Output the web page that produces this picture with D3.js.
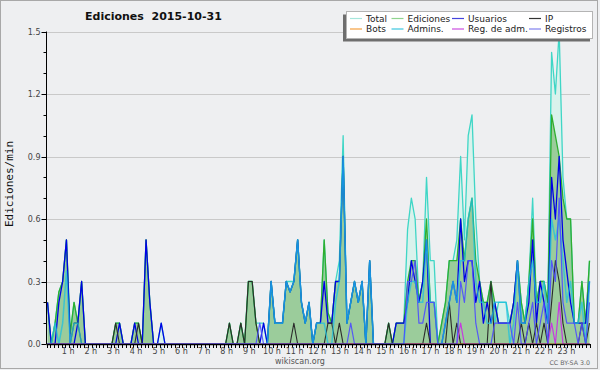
<!DOCTYPE html>
<html>
<head>
<meta charset="utf-8">
<script src="https://cdnjs.cloudflare.com/ajax/libs/d3/7.8.5/d3.min.js"></script>
<style>
  body { margin: 0; background: #eeeff1; }
  svg { display: block; }
</style>
</head>
<body>
<script>
// 10-minute bins, 6 per hour, 0 h .. 23 h 50
var total = [
  0.2,0,0.1,0.25,0.3,0.5,   0.05,0.2,0.1,0.3,0,0,   0,0,0,0,0,0,   0.1,0.1,0,0,0,0.1,
  0.1,0,0.5,0.2,0,0,        0.1,0,0,0,0,0,          0,0,0,0,0,0,   0,0,0,0,0,0,
  0.1,0,0,0.1,0,0.3,        0.3,0.1,0.1,0.1,0,0.3,  0.1,0.1,0.1,0.3,0.3,0.3,  0.5,0.2,0.1,0.2,0,0.1,
  0.1,0.5,0.15,0.1,0.3,0.4, 1.0,0.1,0.2,0.3,0.2,0.3, 0,0.4,0,0,0,0,  0.1,0,0.1,0.1,0.1,0.55,
  0.7,0.6,0.2,0.3,0.8,0.4,  0.4,0,0.1,0.2,0.4,0.4,  0.5,0.9,0.5,1.0,1.1,0.6,  0.3,0.2,0.2,0.3,0.1,0.2,
  0.2,0.2,0.1,0.2,0.4,0.2,  0.1,0.3,0.7,0.2,0.3,0.3, 0.2,1.4,1.2,1.5,0.8,0.6, 0.6,0.1,0.1,0.3,0.1,0.4
];
var ediciones = [
  0.2,0,0.1,0.25,0.3,0.5,   0.05,0.2,0.1,0.3,0,0,   0,0,0,0,0,0,   0.1,0.1,0,0,0,0.1,
  0.1,0,0.5,0.2,0,0,        0,0,0,0,0,0,            0,0,0,0,0,0,   0,0,0,0,0,0,
  0.1,0,0,0.1,0,0.3,        0.3,0.1,0,0,0,0.3,      0.1,0.1,0.1,0.3,0.25,0.3,  0.5,0.2,0.1,0.2,0,0.1,
  0.1,0.5,0.15,0.1,0.3,0.3, 0.9,0.1,0.2,0.3,0.2,0.3, 0,0.4,0,0,0,0,  0.1,0,0.1,0.1,0.1,0.3,
  0.4,0.4,0.2,0.3,0.6,0.2,  0.2,0,0.1,0.2,0.4,0.4,  0.4,0.6,0.4,0.6,0.7,0.4,  0.3,0.2,0.2,0.3,0.2,0.1,
  0.1,0.1,0.1,0.2,0.4,0.2,  0.1,0.3,0.6,0.2,0.3,0.3, 0.2,1.1,1.0,0.9,0.7,0.6, 0.6,0.1,0.1,0.3,0.1,0.4
];
var usuarios = [
  0.2,0,0,0.2,0.3,0.5,      0,0,0.1,0.3,0,0,        0,0,0,0,0,0,   0,0.1,0,0,0,0.1,
  0,0,0.5,0.2,0,0,          0.1,0,0,0,0,0,          0,0,0,0,0,0,   0,0,0,0,0,0,
  0,0,0,0,0,0,              0,0,0,0.1,0,0.3,        0.1,0.1,0.1,0.3,0.25,0.3,  0.5,0.2,0.1,0.2,0,0.1,
  0.1,0.3,0.1,0.1,0.3,0.3,  0.9,0.1,0.2,0.3,0.2,0.3, 0,0.4,0,0,0,0,  0,0,0.1,0.1,0.1,0.2,
  0.4,0.3,0.2,0.3,0.5,0,    0,0,0,0.1,0.2,0.3,      0.2,0.6,0.3,0.4,0.4,0.2,  0.3,0.1,0.2,0.1,0.2,0.1,
  0.1,0.1,0.1,0.2,0.4,0.1,  0.1,0.2,0.5,0.1,0.3,0.2, 0.1,0.8,0.6,0.9,0.5,0.35, 0.2,0.1,0.1,0.1,0.1,0.3
];
var ip = [
  0,0,0,0,0,0,   0,0.1,0.1,0,0,0,   0,0,0,0,0,0,   0.1,0,0,0,0,0,
  0.1,0,0,0,0,0, 0,0,0,0,0,0,       0,0,0,0,0,0,   0,0,0,0,0,0,
  0.1,0,0,0.1,0,0.3,  0.3,0.1,0,0,0,0,  0,0,0,0,0,0.1,  0,0,0,0,0,0,
  0,0,0.1,0.1,0,0.1,  0,0,0,0,0,0,      0,0,0,0,0,0,    0.1,0,0,0,0,0,
  0,0,0,0,0.1,0,      0,0,0,0,0.2,0,    0.1,0,0,0,0,0,  0,0,0,0.3,0,0,
  0,0,0,0,0,0.1,      0,0.1,0,0.1,0,0.1, 0,0.2,0.4,0.3,0.1,0, 0,0,0,0.1,0,0.1
];
var bots = [
  0,0,0,0,0,0, 0,0,0,0,0,0, 0,0,0,0,0,0, 0,0,0,0,0,0,
  0,0,0,0,0,0, 0,0,0,0,0,0, 0,0,0,0,0,0, 0,0,0,0,0,0,
  0,0,0,0,0,0, 0,0,0,0,0,0, 0,0,0,0,0,0, 0,0,0,0,0,0,
  0,0,0,0,0,0, 0,0,0,0,0,0, 0,0,0,0,0,0, 0,0,0,0,0,0,
  0,0,0,0,0,0, 0,0,0,0,0,0, 0,0,0,0,0,0, 0,0,0,0,0,0,
  0,0,0,0,0,0, 0,0,0,0,0,0, 0,0,0,0,0,0, 0,0,0,0,0,0
];
var admins = [
  0,0,0.1,0,0.1,0.35,  0,0.1,0.1,0,0,0,  0,0,0,0,0,0,  0,0,0,0,0,0,
  0,0,0,0,0,0,         0,0,0,0,0,0,      0,0,0,0,0,0,  0,0,0,0,0,0,
  0,0,0,0,0,0,         0,0,0,0,0,0.3,    0.1,0.1,0.1,0.3,0.25,0.3,  0.5,0.2,0.1,0.2,0,0.1,
  0.1,0.1,0,0,0.2,0.3, 0.9,0.1,0.2,0.3,0.2,0.3, 0,0.4,0,0,0,0,  0,0,0,0,0,0.2,
  0.3,0.3,0.2,0.2,0.5,0.2,  0.2,0,0,0.1,0.2,0.3,  0.2,0.4,0.4,0.6,0.7,0.3,  0.2,0.2,0.1,0.1,0.2,0.2,
  0.2,0.2,0,0.1,0.4,0.1,    0.1,0.3,0.4,0.2,0.2,0.3, 0.1,0.6,0.5,0.6,0.4,0.2, 0.3,0.1,0.1,0.2,0,0.3
];
var regAdm = [
  0,0,0,0,0,0, 0,0,0,0,0,0, 0,0,0,0,0,0, 0,0,0,0,0,0,
  0,0,0,0,0,0, 0,0,0,0,0,0, 0,0,0,0,0,0, 0,0,0,0,0,0,
  0,0,0,0,0,0, 0,0,0,0,0,0, 0,0,0,0,0,0, 0,0,0,0,0,0,
  0,0,0,0,0,0, 0,0,0,0,0,0, 0,0,0,0,0,0, 0,0,0,0,0,0,
  0,0,0,0,0,0, 0,0,0,0,0,0, 0,0.1,0,0,0,0, 0,0,0,0,0,0,
  0,0,0,0,0,0, 0,0,0,0,0,0, 0,0.1,0,0.2,0,0, 0,0,0,0,0,0
];
var registros = [
  0,0,0,0,0,0, 0,0,0,0,0,0, 0,0,0,0,0,0, 0,0,0,0,0,0,
  0,0,0,0,0,0, 0,0,0,0,0,0, 0,0,0,0,0,0, 0,0,0,0,0,0,
  0,0,0,0,0,0, 0,0,0.1,0,0,0, 0,0,0,0,0,0, 0,0,0,0,0,0,
  0,0,0,0,0,0, 0,0,0.1,0,0,0, 0,0,0,0,0,0, 0,0,0,0,0,0.3,
  0.3,0.4,0.1,0.1,0.2,0.2,  0.2,0,0,0,0,0,  0,0.3,0.2,0.4,0.4,0.1,  0,0,0,0,0.1,0.1,
  0.1,0.1,0.1,0,0.2,0,      0,0.1,0.2,0,0.1,0.2,  0,0.4,0.3,0.7,0.2,0.1,  0.1,0.1,0,0.1,0,0.2
];

var hours = ["1 h","2 h","3 h","4 h","5 h","6 h","7 h","8 h","9 h","10 h","11 h","12 h",
             "13 h","14 h","15 h","16 h","17 h","18 h","19 h","20 h","21 h","22 h","23 h"];
var yTicks = [0, 0.3, 0.6, 0.9, 1.2, 1.5];
var yMinor = [0.1, 0.2, 0.4, 0.5, 0.7, 0.8, 1.0, 1.1, 1.3, 1.4];

var width = 600, height = 370;
var plotL = 46.5, plotR = 590, plotB = 344, plotT = 31.5;

var svg = d3.select("body").append("svg")
  .attr("width", width)
  .attr("height", height);

svg.append("rect")
  .attr("x", 0.5).attr("y", 0.5)
  .attr("width", 597).attr("height", 368)
  .attr("fill", "#eeeff1")
  .attr("stroke", "#a8a8a8");

var x = d3.scaleLinear().domain([0, 143]).range([47.5, 589.5]);
var xt = d3.scaleLinear().domain([0, 144]).range([plotL, plotR]);
var y = d3.scaleLinear().domain([0, 1.5]).range([plotB, plotT]);

// grid
svg.append("g").selectAll("line")
  .data(yTicks.slice(1))
  .enter().append("line")
  .attr("x1", plotL).attr("x2", plotR)
  .attr("y1", function(d) { return Math.round(y(d)) + 0.5 })
  .attr("y2", function(d) { return Math.round(y(d)) + 0.5 })
  .attr("stroke", "#c9c9c9");

var idx = d3.range(144);
var area = function(vals) {
  return d3.area()
    .x(function(i) { return x(i) })
    .y0(y(0))
    .y1(function(i) { return y(vals[i]) })(idx);
};
var line = function(vals) {
  return d3.line()
    .x(function(i) { return x(i) })
    .y(function(i) { return y(vals[i]) })(idx);
};

svg.append("path").attr("d", area(total)).attr("fill", "#d9f2ec");
svg.append("path").attr("d", area(ediciones)).attr("fill", "#9bcc9b");

var series = [
  {vals: total, color: "#3fd6c6", w: 1.3, op: 1},
  {vals: ediciones, color: "#2fae2f", w: 1.3, op: 1},
  {vals: usuarios, color: "#0000e6", w: 1.3, op: 1},
  {vals: ip, color: "#2b2b2b", w: 1.1, op: 1},
  {vals: bots, color: "#ff9a2e", w: 1.1, op: 1},
  {vals: admins, color: "#1fc0e0", w: 1.5, op: 0.75},
  {vals: regAdm, color: "#c63ae0", w: 1.2, op: 1},
  {vals: registros, color: "#4c4cff", w: 1.2, op: 0.9}
];
svg.append("g").selectAll("path")
  .data(series)
  .enter().append("path")
  .attr("d", function(d) { return line(d.vals) })
  .attr("fill", "none")
  .attr("stroke", function(d) { return d.color })
  .attr("stroke-width", function(d) { return d.w })
  .attr("stroke-opacity", function(d) { return d.op })
  .attr("stroke-linejoin", "round");

// y axis
var yAxis = svg.append("g").attr("font-family", "DejaVu Sans").attr("font-size", 8).attr("fill", "#444");
yAxis.append("line")
  .attr("x1", plotL).attr("x2", plotL).attr("y1", plotT).attr("y2", plotB)
  .attr("stroke", "#000");
yAxis.selectAll("line.major").data(yTicks).enter().append("line")
  .attr("class", "major")
  .attr("x1", plotL - 5).attr("x2", plotL)
  .attr("y1", function(d) { return Math.round(y(d)) + 0.5 })
  .attr("y2", function(d) { return Math.round(y(d)) + 0.5 })
  .attr("stroke", "#000");
yAxis.selectAll("line.minor").data(yMinor).enter().append("line")
  .attr("class", "minor")
  .attr("x1", plotL - 3).attr("x2", plotL)
  .attr("y1", function(d) { return Math.round(y(d)) + 0.5 })
  .attr("y2", function(d) { return Math.round(y(d)) + 0.5 })
  .attr("stroke", "#000");
yAxis.selectAll("text").data(yTicks).enter().append("text")
  .attr("x", plotL - 6).attr("y", function(d) { return y(d) + 3 })
  .attr("text-anchor", "end")
  .text(function(d) { return d.toFixed(1) });

// x axis
var xAxis = svg.append("g").attr("font-family", "DejaVu Sans").attr("font-size", 8).attr("fill", "#444");
xAxis.append("line")
  .attr("x1", plotL).attr("x2", plotR).attr("y1", plotB + 0.5).attr("y2", plotB + 0.5)
  .attr("stroke", "#000").attr("stroke-width", 1.5);
xAxis.selectAll("line.tick").data(d3.range(145)).enter().append("line")
  .attr("class", "tick")
  .attr("x1", function(d) { return Math.round(xt(d)) + 0.5 })
  .attr("x2", function(d) { return Math.round(xt(d)) + 0.5 })
  .attr("y1", plotB).attr("y2", plotB + 4)
  .attr("stroke", "#000");
xAxis.selectAll("text").data(hours).enter().append("text")
  .attr("x", function(d, i) { return xt((i + 1) * 6) - 1 })
  .attr("y", plotB + 10)
  .attr("text-anchor", "middle")
  .text(function(d) { return d });

// titles
svg.append("text")
  .attr("x", 85).attr("y", 20)
  .attr("font-family", "DejaVu Sans").attr("font-weight", "bold").attr("font-size", 11)
  .attr("fill", "#111")
  .style("white-space", "pre")
  .text("Ediciones  2015-10-31");

svg.append("text")
  .attr("transform", "translate(13,184) rotate(-90)")
  .attr("text-anchor", "middle")
  .attr("font-family", "DejaVu Sans Mono").attr("font-size", 11)
  .attr("fill", "#111")
  .text("Ediciones/min");

svg.append("text")
  .attr("x", 300).attr("y", 364)
  .attr("text-anchor", "middle")
  .attr("font-family", "DejaVu Sans").attr("font-size", 8)
  .attr("fill", "#555")
  .text("wikiscan.org");

svg.append("text")
  .attr("x", 590).attr("y", 365)
  .attr("text-anchor", "end")
  .attr("font-family", "DejaVu Sans").attr("font-size", 6.3)
  .attr("fill", "#666")
  .text("CC BY-SA 3.0");

// legend
var legendNames = ["Total", "Ediciones", "Usuarios", "IP", "Bots", "Admins.", "Reg. de adm.", "Registros"];
var legendColors = ["#a6e6dc", "#8fd48f", "#4444dd", "#333333", "#f5a040", "#3cc6e0", "#cc4fe0", "#8080ee"];
var colX = [366, 407.5, 468, 545];
var rowY = [21.5, 32];

var legend = svg.append("g");
legend.append("rect")
  .attr("x", 343).attr("y", 14.5).attr("width", 247).attr("height", 27)
  .attr("fill", "#6e6e6e");
legend.append("rect")
  .attr("x", 346.5).attr("y", 11.5).attr("width", 246).attr("height", 27)
  .attr("fill", "#fff").attr("stroke", "#b4b4b4");

var items = legend.selectAll("g.item").data(legendNames).enter().append("g").attr("class", "item");
items.append("line")
  .attr("x1", function(d, i) { return colX[i % 4] - 16 })
  .attr("x2", function(d, i) { return colX[i % 4] - 4 })
  .attr("y1", function(d, i) { return rowY[Math.floor(i / 4)] - 3 })
  .attr("y2", function(d, i) { return rowY[Math.floor(i / 4)] - 3 })
  .attr("stroke", function(d, i) { return legendColors[i] })
  .attr("stroke-width", 1.2);
items.append("text")
  .attr("x", function(d, i) { return colX[i % 4] })
  .attr("y", function(d, i) { return rowY[Math.floor(i / 4)] })
  .attr("font-family", "DejaVu Sans").attr("font-size", 9)
  .attr("fill", "#222")
  .text(function(d) { return d });
</script>
</body>
</html>
